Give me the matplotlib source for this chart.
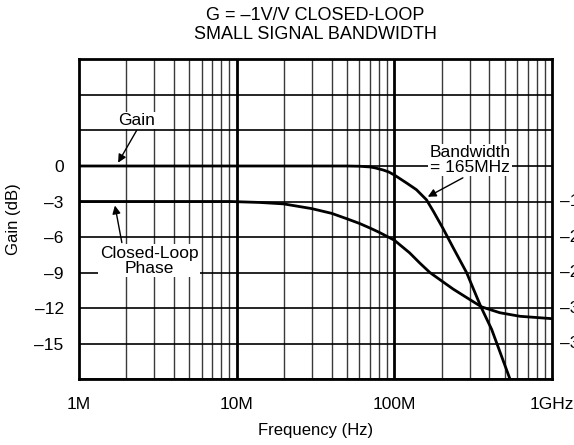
import numpy as np
import matplotlib
matplotlib.use("Agg")
import matplotlib.pyplot as plt
from matplotlib.ticker import FixedLocator, NullFormatter

plt.rcParams['font.family'] = ['Liberation Sans', 'DejaVu Sans']

# gain curve (MHz, dB)
gain_freq_mhz = [1, 10, 50, 60, 70, 75, 85, 92, 100, 120, 138, 160, 177, 204, 236, 287, 354, 414, 541]
gain_db = [0, 0, 0, -0.02, -0.08, -0.15, -0.34, -0.5, -0.76, -1.45, -2.0, -2.86, -3.84, -5.3,
           -6.9, -9.0, -11.9, -13.8, -18.0]

# closed-loop phase curve, plotted on the gain scale (MHz, dB)
phase_freq_mhz = [1, 5, 9.1, 14, 19.8, 29.9, 40, 49.8, 60, 70, 80, 89.6, 100, 108, 125, 145,
                  168, 200, 236, 294, 357, 467, 626, 1000]
phase_db = [-3, -3, -3.0, -3.08, -3.2, -3.6, -4.0, -4.45, -4.85, -5.24, -5.6, -5.94, -6.27,
            -6.64, -7.34, -8.2, -9.0, -9.72, -10.4, -11.2, -11.9, -12.4, -12.7, -12.9]

y_ticks = [0, -3, -6, -9, -12, -15]
y_grid = [9, 6, 3, 0, -3, -6, -9, -12, -15, -18]
x_ticks_mhz = [1, 10, 100, 1000]
x_tick_labels = ["1M", "10M", "100M", "1GHz"]
phase_labels = ["–180", "–225", "–270", "–315", "–360"]
phase_label_rows = [-3, -6, -9, -12, -15]

FS = 12.5

fig = plt.figure(figsize=(5.74, 4.45), dpi=100)
ax = fig.add_axes([0.1376, 0.1483, 0.8241, 0.7180])

f_gain = np.array(gain_freq_mhz) * 1e6
f_phase = np.array(phase_freq_mhz) * 1e6

ax.set_xscale('log')
ax.set_xlim(1e6, 1e9)
ax.set_ylim(-18, 9)

# grid
minor = [m * 10 ** d for d in (6, 7, 8) for m in range(2, 10)]
for f in minor:
    ax.axvline(f, color='#3a3a3a', lw=1.0, zorder=1)
for f in (1e7, 1e8):
    ax.axvline(f, color='black', lw=2.0, zorder=1)
for y in y_grid:
    ax.axhline(y, color='black', lw=1.2, zorder=1)

ax.plot(f_gain, gain_db, color='black', lw=2.0, zorder=3, solid_joinstyle='round')
ax.plot(f_phase, phase_db, color='black', lw=2.0, zorder=3, solid_joinstyle='round')

ax.xaxis.set_major_locator(FixedLocator(np.array(x_ticks_mhz) * 1e6))
ax.set_xticklabels(x_tick_labels)
ax.xaxis.set_minor_formatter(NullFormatter())
ax.set_yticks(y_ticks)
ax.set_yticklabels([("–" + str(-v)) if v < 0 else str(v) for v in y_ticks])
ax.tick_params(which='both', length=0, labelsize=FS, pad=11)
ax.tick_params(axis='x', pad=13)
for s in ax.spines.values():
    s.set_linewidth(2.0)
    s.set_zorder(4)

ax.set_xlabel("Frequency (Hz)", fontsize=12, labelpad=8)
ax.set_ylabel("Gain (dB)", fontsize=12, labelpad=10)
ax.set_title("G = –1V/V CLOSED-LOOP\nSMALL SIGNAL BANDWIDTH", fontsize=13, pad=15,
             linespacing=1.1)

# right side phase labels, cut by the figure edge as in the original
for lab, row in zip(phase_labels, phase_label_rows):
    ax.text(1.017, row, lab, transform=ax.get_yaxis_transform(), ha='left', va='center',
            fontsize=FS, clip_on=False)

box = dict(facecolor='white', edgecolor='none', pad=1.0)
arrow = dict(arrowstyle='-|>', color='black', lw=1.0, mutation_scale=12, shrinkA=0, shrinkB=0)

ax.text(2.32e6, 3.85, "Gain", ha='center', va='center', fontsize=FS, bbox=box, zorder=5)
ax.annotate("", xy=(1.77e6, 0.28), xytext=(2.32e6, 3.0), arrowprops=arrow, zorder=5)

ax.text(2.78e6, -8.0, "Closed-Loop\nPhase", ha='center', va='center', fontsize=FS,
        linespacing=1.0, bbox=box, zorder=5)
ax.annotate("", xy=(1.69e6, -3.34), xytext=(1.87e6, -6.47), arrowprops=arrow, zorder=5)

ax.text(3.01e8, 0.5, "Bandwidth\n= 165MHz", ha='center', va='center', fontsize=FS,
        linespacing=1.0, bbox=box, zorder=5)
ax.annotate("", xy=(1.63e8, -2.6), xytext=(2.72e8, -1.0), arrowprops=arrow, zorder=5)

fig.savefig("out.png", dpi=100)
